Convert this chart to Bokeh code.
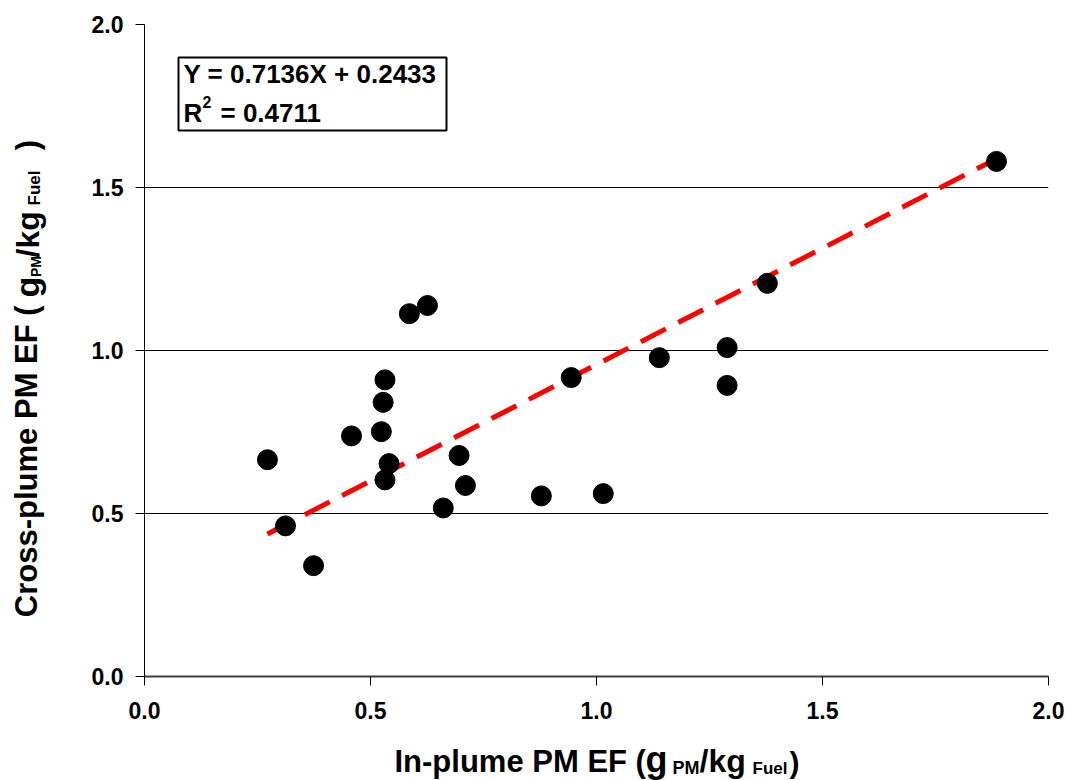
import math
from bokeh.plotting import figure
from bokeh.models import Range1d, Label, BoxAnnotation, FixedTicker, ColumnDataSource
from bokeh.layouts import row, column
from bokeh.embed import file_html
from bokeh.resources import INLINE

# ---- data ----
in_plume = [0.272, 0.312, 0.374, 0.458, 0.524, 0.528, 0.532, 0.541, 0.532, 0.586, 0.626,
            0.661, 0.696, 0.710, 0.878, 0.944, 1.015, 1.139, 1.289, 1.289, 1.378, 1.885]
cross_plume = [0.665, 0.462, 0.340, 0.738, 0.751, 0.841, 0.910, 0.653, 0.603, 1.113, 1.138,
               0.517, 0.678, 0.586, 0.554, 0.917, 0.561, 0.978, 1.009, 0.893, 1.206, 1.580]
slope = 0.7136
intercept = 0.2433
r_squared = 0.4711
tick_values = [0.0, 0.5, 1.0, 1.5, 2.0]

FONT = "Liberation Sans"
W, H = 1065, 780
YT_W = 60          # width of the y-title strip
XT_H = 50          # height of the x-title strip
MW, MH = W - YT_W, H - XT_H
LEFT, RIGHT, TOP = 144 - YT_W, 17, 24
BOTTOM = MH - 676  # frame bottom at page y=676

p = figure(width=MW, height=MH, output_backend="svg", toolbar_location=None,
           x_range=Range1d(0, 2), y_range=Range1d(0, 2),
           min_border_left=LEFT, min_border_right=RIGHT,
           min_border_top=TOP, min_border_bottom=BOTTOM)
p.outline_line_color = None
p.background_fill_color = "white"
p.border_fill_color = "white"

fw = MW - LEFT - RIGHT
fh = MH - TOP - BOTTOM
def dx(px):  # page pixel -> data x
    return (px - YT_W - LEFT) / fw * 2.0
def dy(py):  # page pixel -> data y
    return (TOP + fh - py) / fh * 2.0

# axes
for ax in (p.xaxis[0], p.yaxis[0]):
    ax.ticker = FixedTicker(ticks=tick_values)
    ax.minor_tick_line_color = None
    ax.major_tick_in = 0
    ax.major_tick_out = 9
    ax.major_tick_line_color = "black"
    ax.major_label_text_font = FONT
    ax.major_label_text_font_style = "bold"
    ax.major_label_text_font_size = "23px"
    ax.major_label_text_color = "black"
    ax.major_label_standoff = 12
p.xaxis[0].major_label_standoff = 16
p.xaxis[0].major_label_overrides = {v: f"{v:.1f}" for v in tick_values}
p.yaxis[0].major_label_overrides = {v: f"{v:.1f}" for v in tick_values}
p.xaxis[0].axis_line_color = "#404040"
p.xaxis[0].axis_line_width = 2
p.yaxis[0].axis_line_color = "black"
p.yaxis[0].axis_line_width = 1

p.xgrid.grid_line_color = None
p.ygrid.ticker = FixedTicker(ticks=[0.5, 1.0, 1.5, 2.0])
p.ygrid.grid_line_color = "black"
p.ygrid.grid_line_width = 1

# trend line
x_lo, x_hi = min(in_plume), max(in_plume)
trend = ColumnDataSource(dict(x=[x_lo, x_hi],
                              y=[slope * x_lo + intercept, slope * x_hi + intercept]))
p.line("x", "y", source=trend, line_color="#FF0000", line_width=5, line_dash="28 14")

# points
pts = ColumnDataSource(dict(x=in_plume, y=cross_plume))
p.scatter("x", "y", source=pts, size=20, marker="circle",
          fill_color="black", line_color="black")

# equation box
p.add_layout(BoxAnnotation(left=dx(178), right=dx(446), top=dy(57), bottom=dy(130),
                           fill_color=None, fill_alpha=0, line_color="black",
                           line_alpha=1.0, line_width=2))

SHIFT = 0.35  # empirical baseline correction (fraction of font size)

def lab(fig, fx, fy, text, px, py, size):
    """left-aligned text whose baseline starts at page pixel (px, py)"""
    py = py - SHIFT * size
    fig.add_layout(Label(x=fx(px), y=fy(py), text=text, text_font=FONT,
                         text_font_style="bold", text_font_size=f"{size}px",
                         text_color="black", text_align="left",
                         text_baseline="alphabetic"))

def vlab(fig, text, cx, cy, size):
    """vertical (reading upward) text centred at page pixel (cx, cy)"""
    fig.add_layout(Label(x=cx, y=cy, text=text, text_font=FONT,
                         text_font_style="bold", text_font_size=f"{size}px",
                         text_color="black", text_align="center",
                         text_baseline="middle", angle=math.pi / 2))

lab(p, dx, dy, f"Y = {slope:.4f}X + {intercept:.4f}", 183, 83, 26)
lab(p, dx, dy, "R", 183, 122, 26)
lab(p, dx, dy, "2", 202, 107, 16)
lab(p, dx, dy, f"= {r_squared:.4f}", 220, 122, 26)

# ---- y-title strip (page-pixel coordinates) ----
yt = figure(width=YT_W, height=MH, output_backend="svg", toolbar_location=None,
            x_range=Range1d(0, YT_W), y_range=Range1d(MH, 0),
            x_axis_type=None, y_axis_type=None,
            min_border_left=0, min_border_right=0, min_border_top=0, min_border_bottom=0)
yt.outline_line_color = None
yt.grid.visible = False
vlab(yt, "Cross-plume PM EF (", 25.5, 489, 31)
vlab(yt, "g", 26.0, 294, 34)
vlab(yt, "PM", 35.0, 271, 14)
vlab(yt, "/kg", 27.0, 235, 32)
vlab(yt, "Fuel", 34.0, 183, 17)
vlab(yt, ")", 26.5, 135, 31)

# ---- x-title strip ----
ident = lambda v: v
xt = figure(width=W, height=XT_H, output_backend="svg", toolbar_location=None,
            x_range=Range1d(0, W), y_range=Range1d(H, MH),
            x_axis_type=None, y_axis_type=None,
            min_border_left=0, min_border_right=0, min_border_top=0, min_border_bottom=0)
xt.outline_line_color = None
xt.grid.visible = False
lab(xt, ident, ident, "In-plume PM EF (", 394, 772, 31)
lab(xt, ident, ident, "g", 645, 772, 36)
lab(xt, ident, ident, "PM", 672, 774, 18)
lab(xt, ident, ident, "/kg", 699, 772, 32)
lab(xt, ident, ident, "Fuel", 752, 774, 17)
lab(xt, ident, ident, ")", 789, 772, 30)

layout = column(row(yt, p, spacing=0), xt, spacing=0)
open("out.html", "w").write(file_html(layout, INLINE))
